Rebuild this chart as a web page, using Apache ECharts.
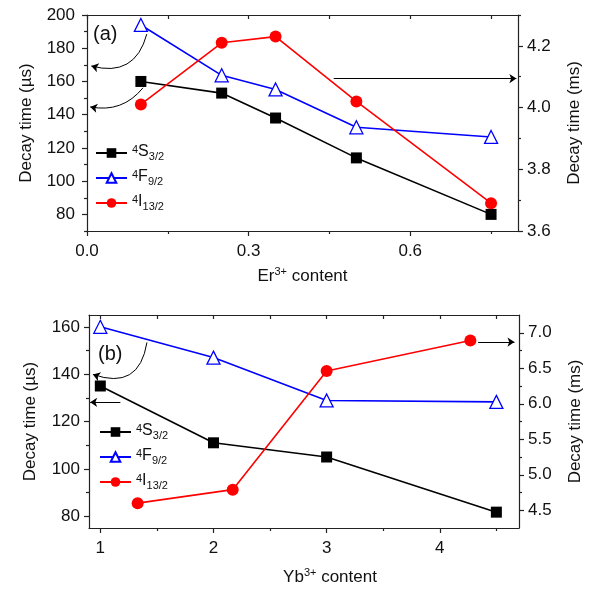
<!DOCTYPE html>
<html><head><meta charset="utf-8">
<script src="https://cdn.jsdelivr.net/npm/echarts@6/dist/echarts.min.js"></script>
<style>html,body{margin:0;padding:0;background:#fff}#c{width:595px;height:591px}</style>
</head><body><div id="c"></div>
<script>
// ---- Panel (a): Er3+ content ----
const erX = [0.1, 0.25, 0.35, 0.5, 0.75];
const erS = [160, 153, 138, 114, 80];          // 4S3/2, µs (left)
const erF = [194, 163.7, 155.2, 132.4, 126.6]; // 4F9/2, µs (left)
const erI = [4.01, 4.21, 4.23, 4.02, 3.69];    // 4I13/2, ms (right)
// ---- Panel (b): Yb3+ content ----
const ybX = [1, 2, 3, 4.5];
const ybS = [135, 111, 105, 81.7];
const ybF = [160, 147, 128.9, 128.3];
const ybIX = [1.33, 2.17, 3.0, 4.27];
const ybI = [4.6, 4.79, 6.46, 6.89];
// ---- tick values ----
const aXMajor = [0, 0.3, 0.6], aXMinor = [0.15, 0.45, 0.75];
const aYLMajor = [80, 100, 120, 140, 160, 180, 200], aYLMinor = [70, 90, 110, 130, 150, 170, 190];
const aYRMajor = [3.6, 3.8, 4.0, 4.2], aYRMinor = [3.7, 3.9, 4.1, 4.3];
const bXMajor = [1, 2, 3, 4], bXMinor = [1.5, 2.5, 3.5, 4.5];
const bYLMajor = [80, 100, 120, 140, 160], bYLMinor = [90, 110, 130, 150];
const bYRMajor = [4.5, 5.0, 5.5, 6.0, 6.5, 7.0], bYRMinor = [4.75, 5.25, 5.75, 6.25, 6.75];
const names = ['4S3/2', '4F9/2', '4I13/2'];
const legendRich = {'4S3/2': '{sup|4}{m|S}{sub|3/2}', '4F9/2': '{sup|4}{m|F}{sub|9/2}', '4I13/2': '{sup|4}{m|I}{sub|13/2}'};
// ---- annotation arrows (data coordinates) ----
const arrowsA_left = [
  {coords: [[0.111, 188.5], [0.008, 169.3]], curve: 0.5},
  {coords: [[0.104, 156.2], [0.006, 144.7]], curve: 0.3}
];
const arrowsA_right = [{coords: [[0.458, 4.094], [0.797, 4.094]], curve: 0}];
const arrowsB_left = [
  {coords: [[1.412, 153.4], [0.935, 139.9]], curve: 0.6},
  {coords: [[1.177, 128.1], [0.91, 128.1]], curve: 0}
];
const arrowsB_right = [{coords: [[4.339, 6.869], [4.66, 6.869]], curve: 0}];

const FONT = 'Liberation Sans, Arial, sans-serif';
const AX = '#222';
const chart = echarts.init(document.getElementById('c'), null, {renderer: 'canvas'});

function mk(vals, pos, grid, opt) {
  return Object.assign({
    type: 'value', gridIndex: grid, position: pos, min: opt.min, max: opt.max,
    splitLine: {show: false},
    axisLine: {show: opt.line !== false, onZero: false, lineStyle: {color: AX, width: 1.2}},
    axisTick: {show: true, inside: !!opt.inside, length: opt.len || 5, customValues: vals, lineStyle: {color: AX, width: 1.2}},
    axisLabel: opt.labels ? {show: true, customValues: vals, margin: opt.margin || 10, fontFamily: FONT, fontSize: 17, color: '#111', formatter: opt.fmt} : {show: false}
  }, opt.extra || {});
}
const f1 = v => v.toFixed(1);
const f0 = v => String(v);
const richSup = {
  sup: {fontSize: 11, fontFamily: FONT, color: '#111', lineHeight: 11, padding: [0, 0, 9, 0]},
  m: {fontSize: 17, fontFamily: FONT, color: '#111', lineHeight: 20}
};
const richLeg = {
  sup: {fontSize: 11, fontFamily: FONT, color: '#111', verticalAlign: 'top', lineHeight: 11},
  m: {fontSize: 16, fontFamily: FONT, color: '#111', verticalAlign: 'top', lineHeight: 18, padding: [0, 0, 6, 0]},
  sub: {fontSize: 11, fontFamily: FONT, color: '#111', verticalAlign: 'bottom', lineHeight: 11}
};

function arrowSeries(list, xi, yi) {
  return {
    type: 'lines', coordinateSystem: 'cartesian2d', xAxisIndex: xi, yAxisIndex: yi, silent: true,
    symbol: ['none', 'arrow'], symbolSize: 7, z: 1,
    lineStyle: {color: '#000', width: 1, opacity: 1},
    data: list.map(a => ({coords: a.coords, lineStyle: {curveness: a.curve}}))
  };
}

const option = {
  animation: false,
  textStyle: {fontFamily: FONT},
  grid: [
    {left: 87, top: 15, right: 77, height: 216},
    {left: 89, top: 315, right: 76, height: 213}
  ],
  xAxis: [
    mk(aXMajor, 'bottom', 0, {min: 0, max: 0.8, labels: true, fmt: f1, margin: 12,
      extra: {name: '{m|Er}{sup|3+}{m| content}', nameLocation: 'middle', nameGap: 35, nameTextStyle: {rich: richSup}}}),
    mk(aXMinor, 'bottom', 0, {min: 0, max: 0.8, line: false, len: 3}),
    mk(aXMajor.concat(aXMinor), 'top', 0, {min: 0, max: 0.8, inside: true, len: 4}),
    mk(bXMajor, 'bottom', 1, {min: 0.9, max: 4.7, labels: true, fmt: f0, margin: 12,
      extra: {name: '{m|Yb}{sup|3+}{m| content}', nameLocation: 'middle', nameGap: 39, nameTextStyle: {rich: richSup, padding: [0, 0, 0, 52]}}}),
    mk(bXMinor, 'bottom', 1, {min: 0.9, max: 4.7, line: false, len: 3}),
    mk(bXMajor.concat(bXMinor), 'top', 1, {min: 0.9, max: 4.7, inside: true, len: 4})
  ],
  yAxis: [
    mk(aYLMajor, 'left', 0, {min: 70, max: 200, labels: true, fmt: f0, margin: 12,
      extra: {name: 'Decay time (µs)', nameLocation: 'middle', nameGap: 52, nameTextStyle: {fontSize: 17, color: '#111', fontFamily: FONT}}}),
    mk(aYLMinor, 'left', 0, {min: 70, max: 200, line: false, len: 3}),
    mk(aYRMajor, 'right', 0, {min: 3.6, max: 4.3, labels: true, fmt: f1, margin: 9,
      extra: {name: 'Decay time (ms)', nameLocation: 'middle', nameGap: 48, nameRotate: 90, nameTextStyle: {fontSize: 17, color: '#111', fontFamily: FONT}}}),
    mk(aYRMinor, 'right', 0, {min: 3.6, max: 4.3, line: false, len: 3}),
    mk(bYLMajor, 'left', 1, {min: 75, max: 165, labels: true, fmt: f0, margin: 9,
      extra: {name: 'Decay time (µs)', nameLocation: 'middle', nameGap: 50, nameTextStyle: {fontSize: 17, color: '#111', fontFamily: FONT}}}),
    mk(bYLMinor, 'left', 1, {min: 75, max: 165, line: false, len: 3}),
    mk(bYRMajor, 'right', 1, {min: 4.25, max: 7.25, labels: true, fmt: f1, margin: 9,
      extra: {name: 'Decay time (ms)', nameLocation: 'middle', nameGap: 48, nameRotate: 90, nameTextStyle: {fontSize: 17, color: '#111', fontFamily: FONT}}}),
    mk(bYRMinor, 'right', 1, {min: 4.25, max: 7.25, line: false, len: 3})
  ],
  legend: [
    {orient: 'vertical', left: 95, top: 144, padding: 0, itemWidth: 31, itemHeight: 12, itemGap: 3, data: names,
     formatter: n => legendRich[n], textStyle: {rich: richLeg}, selectedMode: false},
    {orient: 'vertical', left: 99, top: 423, padding: 0, itemWidth: 31, itemHeight: 12, itemGap: 3, data: names,
     formatter: n => legendRich[n], textStyle: {rich: richLeg}, selectedMode: false}
  ],
  graphic: [
    {type: 'text', left: 93, top: 24, style: {text: '(a)', font: '20px ' + FONT, fill: '#111'}},
    {type: 'text', left: 98, top: 344, style: {text: '(b)', font: '20px ' + FONT, fill: '#111'}}
  ],
  series: [
    {name: names[0], type: 'line', xAxisIndex: 0, yAxisIndex: 0, data: erX.map((x, i) => [x, erS[i]]),
     symbol: 'rect', symbolSize: 11, itemStyle: {color: '#000'}, lineStyle: {color: '#000', width: 1.6}},
    {name: names[1], type: 'line', xAxisIndex: 0, yAxisIndex: 0, data: erX.map((x, i) => [x, erF[i]]),
     symbol: 'triangle', symbolSize: 13, itemStyle: {color: '#fff', borderColor: '#0000ff', borderWidth: 1.3}, lineStyle: {color: '#0000ff', width: 1.6}},
    {name: names[2], type: 'line', xAxisIndex: 0, yAxisIndex: 2, data: erX.map((x, i) => [x, erI[i]]),
     symbol: 'circle', symbolSize: 12, itemStyle: {color: '#ff0000'}, lineStyle: {color: '#ff0000', width: 1.6}},
    {name: names[0], type: 'line', xAxisIndex: 3, yAxisIndex: 4, data: ybX.map((x, i) => [x, ybS[i]]),
     symbol: 'rect', symbolSize: 11, itemStyle: {color: '#000'}, lineStyle: {color: '#000', width: 1.6}},
    {name: names[1], type: 'line', xAxisIndex: 3, yAxisIndex: 4, data: ybX.map((x, i) => [x, ybF[i]]),
     symbol: 'triangle', symbolSize: 13, itemStyle: {color: '#fff', borderColor: '#0000ff', borderWidth: 1.3}, lineStyle: {color: '#0000ff', width: 1.6}},
    {name: names[2], type: 'line', xAxisIndex: 3, yAxisIndex: 6, data: ybIX.map((x, i) => [x, ybI[i]]),
     symbol: 'circle', symbolSize: 12, itemStyle: {color: '#ff0000'}, lineStyle: {color: '#ff0000', width: 1.6}},
    arrowSeries(arrowsA_left, 0, 0),
    arrowSeries(arrowsA_right, 0, 2),
    arrowSeries(arrowsB_left, 3, 4),
    arrowSeries(arrowsB_right, 3, 6)
  ]
};
chart.setOption(option);
</script></body></html>
